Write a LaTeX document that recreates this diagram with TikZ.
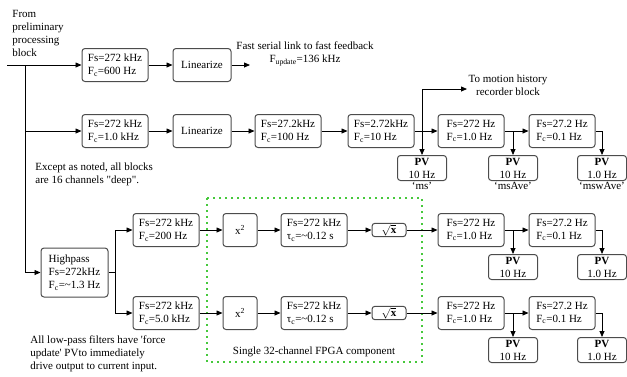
\documentclass[tikz,border=0pt]{standalone}
\usepackage{amsmath}
\usepackage{fontspec}
\setmainfont{Liberation Serif}
\usetikzlibrary{arrows.meta,positioning}
\definecolor{fpgagreen}{RGB}{70,200,60}
\newcommand{\lowc}[1]{$_{\text{#1}}$}

\begin{document}
\begin{tikzpicture}
      [x=1pt, y=-1pt,
      font=\fontsize{11}{13}\selectfont,
      line width=0.8pt,
      flow/.style={draw, -{Triangle[length=6pt,width=5pt]}},
      filter box/.style={draw=black!70, line width=1pt, rectangle, rounded corners=3pt, align=left, minimum width=66pt, minimum height=33pt, inner sep=2pt},
      op box/.style={filter box, align=center, minimum width=34pt},
      pv box/.style={draw=black!70, line width=1pt, rectangle, rounded corners=3pt, align=center, minimum width=49pt, minimum height=25pt, inner sep=1pt},
      note/.style={align=left, inner sep=0pt},
      fpga/.style={draw=fpgagreen, line width=1.6pt, dash pattern=on 1.8pt off 4.2pt}
      ]
      \useasboundingbox (0,0) rectangle (627,376);

      % notes
      \node[note, anchor=west] (src) at (12,33) {From\\preliminary\\processing\\block};
      \node[note, anchor=west] (deep) at (35,174) {Except as noted, all blocks\\are 16 channels \textquotedbl deep\textquotedbl.};
      \node[note, anchor=west] (force) at (30,354) {All low-pass filters have \textquotesingle force\\update\textquotesingle\ PVto immediately\\drive output to current input.};

      % row 1
      \node[filter box] (a1) at (115,65) {Fs=272 kHz\\F\lowc{c}=600 Hz};
      \node[filter box, minimum width=58pt, align=center] (a2) at (202,65) {Linearize};
      \node[note, align=center] (fast) at (305,54) {Fast serial link to fast feedback\\F\lowc{update}=136 kHz};
      \coordinate (fastin) at (250,65);

      % row 2
      \node[filter box] (b1) at (115,131) {Fs=272 kHz\\F\lowc{c}=1.0 kHz};
      \node[filter box, minimum width=58pt, align=center] (b2) at (202,131) {Linearize};
      \node[filter box] (b3) at (288,131) {Fs=27.2kHz\\F\lowc{c}=100 Hz};
      \node[filter box] (b4) at (381,131) {Fs=2.72kHz\\F\lowc{c}=10 Hz};
      \node[filter box] (b5) at (471,131) {Fs=272 Hz\\F\lowc{c}=1.0 Hz};
      \node[filter box] (b6) at (562,131) {Fs=27.2 Hz\\F\lowc{c}=0.1 Hz};
      \node[pv box] (pv1) at (422,168) {\textbf{PV}\\10 Hz};
      \node[pv box] (pv2) at (513,168) {\textbf{PV}\\10 Hz};
      \node[pv box] (pv3) at (602,168) {\textbf{PV}\\1.0 Hz};
      \node[below=1pt of pv1, inner sep=0pt] (ms) {`ms'};
      \node[below=1pt of pv2, inner sep=0pt] (msave) {`msAve'};
      \node[below=1pt of pv3, inner sep=0pt] (mswave) {`mswAve'};
      \node[note, align=center] (rec) at (508,85) {To motion history\\recorder block};
      \coordinate (recin) at (467,89);

      % highpass and rows 3, 4
      \node[filter box, minimum width=67pt, minimum height=49pt] (hp) at (74.5,272.5) {Highpass\\Fs=272kHz\\F\lowc{c}=\textasciitilde1.3 Hz};
      \foreach \r/\y/\fc in {c/230/200 Hz, d/313/5.0 kHz} {
        \node[filter box] (\r1) at (166,\y) {Fs=272 kHz\\F\lowc{c}=\fc};
        \node[op box] (\r2) at (240,\y) {x\textsuperscript{2}};
        \node[filter box] (\r3) at (314,\y) {Fs=272 kHz\\τ\lowc{c}=\textasciitilde0.12 s};
        \node[op box, minimum height=13pt, inner sep=1pt] (\r4) at (389,\y) {$\sqrt{\mathbf{x}}$};
        \node[filter box] (\r5) at (471,\y) {Fs=272 Hz\\F\lowc{c}=1.0 Hz};
        \node[filter box] (\r6) at (562,\y) {Fs=27.2 Hz\\F\lowc{c}=0.1 Hz};
        \node[pv box] (\r pva) at (513,\y+37) {\textbf{PV}\\10 Hz};
        \node[pv box] (\r pvb) at (602,\y+37) {\textbf{PV}\\1.0 Hz};
      }

      % FPGA frame
      \draw[fpga] (207,198) rectangle (422,362);
      \node[inner sep=0pt] (fpgalabel) at (314,352) {Single 32-channel FPGA component};

      % connectors
      \coordinate (in) at (7,65);
      \coordinate (bus) at (25,65);
      \draw[flow] (in) -- (a1);
      \draw[flow] (a1) -- (a2);
      \draw[flow] (a2) -- (fastin);
      \draw[flow] (bus) |- (b1.west);
      \draw[flow] (bus) |- (hp.west);
      \draw[flow] (b1) -- (b2);
      \draw[flow] (b2) -- (b3);
      \draw[flow] (b3) -- (b4);
      \draw[flow] (b4) -- (b5);
      \coordinate (tap1) at (pv1.north |- b4.east);
      \draw[flow] (tap1) -- (pv1);
      \draw[flow] (tap1) |- (recin);
      \coordinate (tap2) at (pv2.north |- b5.east);
      \draw[flow] (tap2) -- (pv2);
      \draw[flow] (b5) -- (b6);
      \draw[flow] (b6.east) -| (pv3);
      \draw (hp.east) -- ++(7,0) coordinate (split);
      \draw[flow] (split) |- (c1.west);
      \draw[flow] (split) |- (d1.west);
      \foreach \r in {c, d} {
        \draw[flow] (\r1) -- (\r2);
        \draw[flow] (\r2) -- (\r3);
        \draw[flow] (\r3) -- (\r4);
        \draw[flow] (\r4) -- (\r5);
        \coordinate (\r tap) at (\r pva.north |- \r5.east);
        \draw[flow] (\r tap) -- (\r pva);
        \draw[flow] (\r5) -- (\r6);
        \draw[flow] (\r6.east) -| (\r pvb);
      }
\end{tikzpicture}
\end{document}
